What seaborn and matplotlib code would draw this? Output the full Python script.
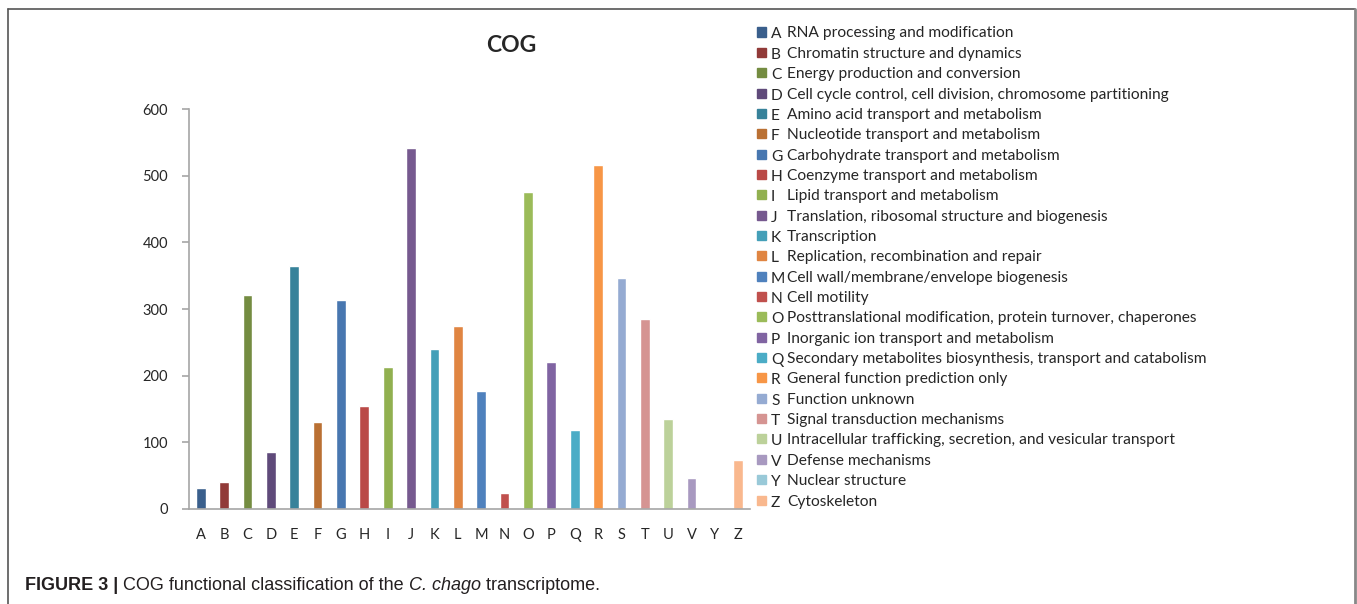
import matplotlib
matplotlib.use('Agg')
import matplotlib.pyplot as plt
import seaborn as sns
import pandas as pd
from matplotlib import font_manager
from matplotlib.patches import Rectangle
from matplotlib.lines import Line2D

# COG categories, counts and descriptions
cats = ['A', 'B', 'C', 'D', 'E', 'F', 'G', 'H', 'I', 'J', 'K', 'L', 'M',
        'N', 'O', 'P', 'Q', 'R', 'S', 'T', 'U', 'V', 'Y', 'Z']
counts = [32, 40, 321, 85, 365, 131, 314, 155, 213, 542, 240, 274, 177,
          24, 475, 220, 118, 516, 347, 285, 135, 47, 2, 73]
descs = ['RNA processing and modification',
         'Chromatin structure and dynamics',
         'Energy production and conversion',
         'Cell cycle control, cell division, chromosome partitioning',
         'Amino acid transport and metabolism',
         'Nucleotide transport and metabolism',
         'Carbohydrate transport and metabolism',
         'Coenzyme transport and metabolism',
         'Lipid transport and metabolism',
         'Translation, ribosomal structure and biogenesis',
         'Transcription',
         'Replication, recombination and repair',
         'Cell wall/membrane/envelope biogenesis',
         'Cell motility',
         'Posttranslational modification, protein turnover, chaperones',
         'Inorganic ion transport and metabolism',
         'Secondary metabolites biosynthesis, transport and catabolism',
         'General function prediction only',
         'Function unknown',
         'Signal transduction mechanisms',
         'Intracellular trafficking, secretion, and vesicular transport',
         'Defense mechanisms',
         'Nuclear structure',
         'Cytoskeleton']
colors = ['#3A5F8C', '#913A38', '#748C41', '#5F4A7A', '#37829A', '#BA7033',
          '#4877B0', '#BA4A47', '#91B050', '#76598F', '#449FB8', '#E08542',
          '#4F81BD', '#C0504D', '#9BBB59', '#8064A2', '#4BACC6', '#F79646',
          '#95ABD2', '#D59492', '#BCD19A', '#A899C0', '#99C9D8', '#F9B88E']

df = pd.DataFrame({'cat': cats, 'count': counts})

names = {f.name for f in font_manager.fontManager.ttflist}
body_font = 'Lato' if 'Lato' in names else 'DejaVu Sans'
cap_font = 'Liberation Sans Narrow' if 'Liberation Sans Narrow' in names else 'Liberation Sans'

sns.set_style('white')
plt.rcParams['font.family'] = [body_font, 'DejaVu Sans']

fig = plt.figure(figsize=(13.57, 6.04), dpi=100)
ax = fig.add_axes([0.1393, 0.1573, 0.4134, 0.6622])

sns.barplot(data=df, x='cat', y='count', hue='cat', palette=colors,
            legend=False, width=0.42, saturation=1, ax=ax)

ax.set_xlim(-0.5, len(cats) - 0.5)
ax.set_ylim(0, 600)
ax.set_yticks(range(0, 601, 100))
ax.set_xlabel('')
ax.set_ylabel('')
for s in ['top', 'right']:
    ax.spines[s].set_visible(False)
for s in ['left', 'bottom']:
    ax.spines[s].set_color('#A6A6A6')
    ax.spines[s].set_linewidth(1.2)
ax.set_xticks([i + 0.5 for i in range(-1, len(cats))], minor=True)
ax.tick_params(axis='x', which='major', length=0, pad=14, labelsize=10.5)
ax.tick_params(axis='x', which='minor', length=5, color='#A6A6A6', width=1.2, direction='out')
ax.tick_params(axis='y', length=5, color='#A6A6A6', width=1.2, direction='out',
               labelsize=10.5, pad=10, left=True)

fig.text(0.3765, 0.925, 'COG', ha='center', va='center', fontsize=16.5,
         fontweight='bold')

# legend rows
W, H = 1357.0, 604.0
y0, step = 32.0, 468.0 / 23
for i, (c, d, col) in enumerate(zip(cats, descs, colors)):
    yc = y0 + i * step
    fig.patches.append(Rectangle((757 / W, 1 - (yc + 4.5) / H), 9 / W, 9 / H,
                                 transform=fig.transFigure, color=col))
    fig.text(771 / W, 1 - (yc + 1) / H, c, ha='left', va='center_baseline', fontsize=11.2)
    fig.text(787 / W, 1 - yc / H, d, ha='left', va='center_baseline', fontsize=11.2)

# outer frame
fig.lines.append(Line2D([8 / W, 8 / W], [0, 1 - 9 / H], transform=fig.transFigure,
                        color='#555555', lw=1.2))
fig.lines.append(Line2D([8 / W, 1355 / W], [1 - 9 / H, 1 - 9 / H],
                        transform=fig.transFigure, color='#555555', lw=1.2))
fig.lines.append(Line2D([1355 / W, 1355 / W], [0, 1 - 9 / H], transform=fig.transFigure,
                        color='#888888', lw=2))

# caption
fig.canvas.draw()
r = fig.canvas.get_renderer()
x = 25 / W
yc = 1 - 586 / H
parts = [('FIGURE 3 | ', 'bold', 'normal'), ('COG functional classification of the ', 'normal', 'normal'),
         ('C. chago', 'normal', 'italic'), (' transcriptome.', 'normal', 'normal')]
for txt, w, st in parts:
    t = fig.text(x, yc, txt, ha='left', va='center', fontsize=13,
                 fontweight=w, fontstyle=st, family=[cap_font, 'DejaVu Sans'], color='#231F20')
    bb = t.get_window_extent(renderer=r)
    x += bb.width / fig.bbox.width

fig.savefig('out.png', dpi=100)
